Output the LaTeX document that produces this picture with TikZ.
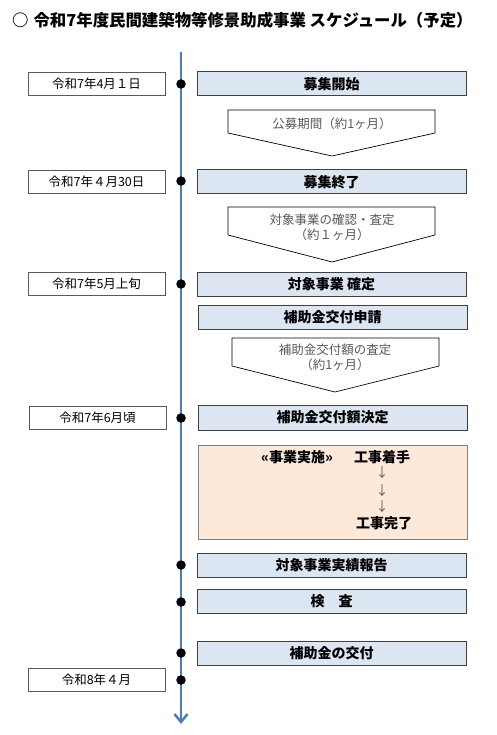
\documentclass[tikz,border=0pt]{standalone}
\usepackage{fontspec}
\setmainfont{Noto Sans CJK JP}
\usetikzlibrary{arrows.meta}
\definecolor{linecol}{HTML}{4A7EBB}
\definecolor{boxfill}{HTML}{DCE6F2}
\definecolor{peach}{HTML}{FDE9D9}
\definecolor{txtgray}{HTML}{595959}
\definecolor{boxedge}{HTML}{404040}
\begin{document}
\begin{tikzpicture}[x=1pt,y=-1pt,
  datebox/.style={draw=txtgray,line width=0.8pt,minimum width=137pt,minimum height=23pt,inner sep=0pt,font=\fontsize{12.5}{15}\selectfont},
  stepbox/.style={draw=boxedge,fill=boxfill,line width=1pt,minimum width=269pt,minimum height=24pt,inner sep=0pt,font=\bfseries\fontsize{14}{16}\selectfont},
  tdot/.style={circle,fill=black,minimum size=9.5pt,inner sep=0pt},
  pent/.style={draw=black,line width=0.7pt,fill=white},
  penttext/.style={text=txtgray,align=center,inner sep=0pt,font=\fontsize{12.5}{15}\selectfont},
  worktext/.style={inner sep=0pt,font=\bfseries\fontsize{14}{16}\selectfont},
  arrtext/.style={inner sep=0pt,text=txtgray,font=\fontsize{13}{15}\selectfont}
]
\useasboundingbox (0,0) rectangle (496,735);
% title
\node[anchor=west,inner sep=0pt,font=\bfseries\fontsize{16.4}{19}\selectfont] (title) at (12,20) {○\hspace{5pt}令和7年度民間建築物等修景助成事業 スケジュール（予定）};
% timeline
\coordinate (top) at (181,52);
\coordinate (bot) at (181,724);
\draw[linecol,line width=2.5pt,-{Straight Barb[length=8pt,width=13pt,line width=2.5pt]}] (top) -- (bot);
% pentagons
\draw[pent] (228,110) -- (435,110) -- (435,133) -- (332,156) -- (228,133) -- cycle;
\node[penttext] (p1) at (332,124) {公募期間（約1ヶ月）};
\draw[pent] (228,207) -- (435,207) -- (435,235) -- (332,262) -- (228,235) -- cycle;
\node[penttext] (p2) at (332,227) {対象事業の確認・査定\\（約１ヶ月）};
\draw[pent] (232,338) -- (439,338) -- (439,366) -- (335,392) -- (232,366) -- cycle;
\node[penttext] (p3) at (335,357) {補助金交付額の査定\\（約1ヶ月）};
% date boxes
\node[datebox] (d1) at (96.5,83.5) {令和7年4月１日};
\node[datebox] (d2) at (96.5,182) {令和7年４月30日};
\node[datebox] (d3) at (96.5,284) {令和7年5月上旬};
\node[datebox] (d4) at (97.5,418) {令和7年6月頃};
\node[datebox] (d5) at (96.5,679.5) {令和8年４月};
% step boxes
\node[stepbox] (b1) at (331.5,84) {募集開始};
\node[stepbox] (b2) at (331.5,182) {募集終了};
\node[stepbox] (b3) at (331.5,284) {対象事業 確定};
\node[stepbox] (b4) at (332.5,317) {補助金交付申請};
\node[stepbox,minimum height=25pt] (b5) at (332.5,417.5) {補助金交付額決定};
\node[draw=gray,fill=peach,line width=1pt,minimum width=269pt,minimum height=94pt,inner sep=0pt] (work) at (332.5,492) {};
\node[stepbox] (b6) at (331.5,565) {対象事業実績報告};
\node[stepbox] (b7) at (331.5,601.5) {検　査};
\node[stepbox] (b8) at (331.5,653) {補助金の交付};
% work box content
\node[worktext] (w0) at (297,457) {«事業実施»};
\node[worktext] (w1) at (382,457) {工事着手};
\node[arrtext] (a1) at (382,473) {↓};
\node[arrtext] (a2) at (382,491) {↓};
\node[arrtext] (a3) at (382,507) {↓};
\node[worktext] (w2) at (384,523) {工事完了};
% dots
\foreach \yy/\nm in {84/t1,181/t2,284/t3,418/t4,565/t5,602/t6,653/t7,680/t8}
  \node[tdot] (\nm) at (181,\yy) {};
\end{tikzpicture}
\end{document}
